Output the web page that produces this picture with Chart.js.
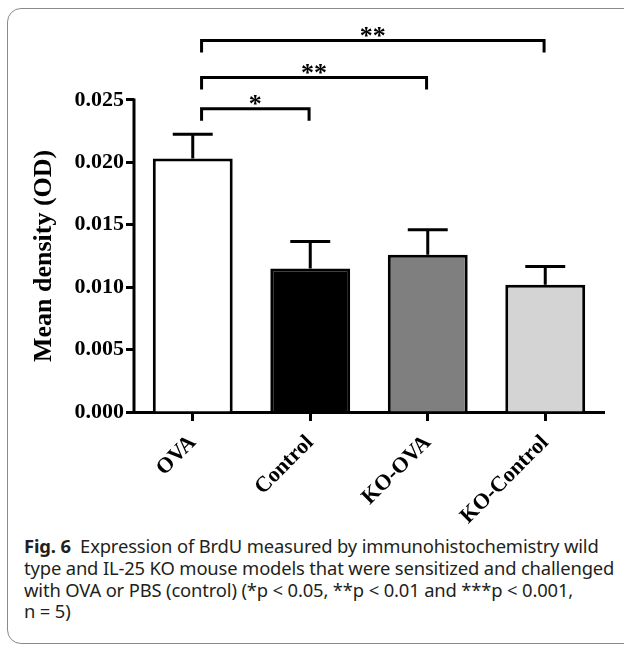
<!DOCTYPE html>
<html>
<head>
<meta charset="utf-8">
<script src="https://cdn.jsdelivr.net/npm/chart.js@4.4.1/dist/chart.umd.min.js"></script>
<style>
  html, body { margin: 0; padding: 0; background: #fff; overflow: hidden; }
  #wrap { position: relative; width: 624px; height: 646px; overflow: hidden; }
  #frame {
    position: absolute; left: 7px; top: 8px; width: 660px; height: 636px;
    border: 1px solid #8a8a8a; border-radius: 14px; box-sizing: border-box;
  }
  #plot { position: absolute; left: 0; top: 0; width: 624px; height: 530px; }
  #caption {
    position: absolute; left: 24px; top: 535px; width: 610px;
    font-family: "Noto Sans", sans-serif; font-size: 18.4px; line-height: 21.8px;
    color: #231f20; white-space: nowrap; letter-spacing: -0.15px;
  }
</style>
</head>
<body>
<div id="wrap">
  <div id="frame"></div>
  <div id="plot"><canvas id="barChart"></canvas></div>
  <div id="caption"><b>Fig. 6</b>&nbsp; Expression of BrdU measured by immunohistochemistry wild<br>type and IL-25 KO mouse models that were sensitized and challenged<br>with OVA or PBS (control) (*p &lt; 0.05, **p &lt; 0.01 and ***p &lt; 0.001,<br>n = 5)</div>
</div>
<script>
// values
const groups = ["OVA", "Control", "KO-OVA", "KO-Control"];
const meanOD = [0.0203, 0.0115, 0.0126, 0.0102];
const semOD = [0.00195, 0.00215, 0.0020, 0.00145];
const yTicks = [0, 0.005, 0.010, 0.015, 0.020, 0.025];
const barColors = ["#ffffff", "#000000", "#7f7f7f", "#d4d4d4"];

// significance brackets: from group, to group, label, level (OD)
const sigFrom = [0, 0, 0];
const sigTo = [1, 2, 3];
const sigLabel = ["*", "**", "**"];
const sigLevel = [0.0243, 0.0268, 0.02975];

const serif = "'Liberation Serif', 'Times New Roman', serif";

const errorBars = {
    id: "errorBars",
    afterDatasetsDraw(chart) {
        const ctx = chart.ctx;
        const y = chart.scales.y;
        const meta = chart.getDatasetMeta(0);
        ctx.save();
        ctx.strokeStyle = "#000";
        ctx.lineWidth = 3;
        meta.data.forEach((bar, i) => {
            const top = y.getPixelForValue(meanOD[i] + semOD[i]);
            const half = bar.width * 0.25;
            ctx.beginPath();
            ctx.moveTo(bar.x, bar.y);
            ctx.lineTo(bar.x, top);
            ctx.moveTo(bar.x - half, top);
            ctx.lineTo(bar.x + half, top);
            ctx.stroke();
        });
        ctx.restore();
    }
};

const extras = {
    id: "extras",
    afterDraw(chart) {
        const ctx = chart.ctx;
        const x = chart.scales.x;
        const y = chart.scales.y;
        ctx.save();
        ctx.strokeStyle = "#000";
        ctx.fillStyle = "#000";
        ctx.lineWidth = 3;

        // y axis line only up to the last tick
        ctx.beginPath();
        ctx.moveTo(chart.chartArea.left, y.getPixelForValue(0) + 1.5);
        ctx.lineTo(chart.chartArea.left, y.getPixelForValue(yTicks[yTicks.length - 1]) - 1.5);
        ctx.stroke();

        // brackets
        ctx.font = "bold 26px " + serif;
        ctx.textAlign = "center";
        ctx.textBaseline = "middle";
        for (let k = 0; k < sigLabel.length; k++) {
            const x1 = x.getPixelForValue(sigFrom[k] + 0.075);
            const x2 = x.getPixelForValue(sigTo[k] - 0.01);
            const yl = y.getPixelForValue(sigLevel[k]);
            const drop = 12;
            ctx.beginPath();
            ctx.moveTo(x1, yl + drop);
            ctx.lineTo(x1, yl);
            ctx.lineTo(x2, yl);
            ctx.lineTo(x2, yl + drop);
            ctx.stroke();
            ctx.fillText(sigLabel[k], (x1 + x2) / 2, yl - 3);
        }

        // y axis title, centred on the drawn axis
        const yMid = (y.getPixelForValue(0) + y.getPixelForValue(yTicks[yTicks.length - 1])) / 2;
        ctx.translate(44, yMid);
        ctx.rotate(-Math.PI / 2);
        ctx.font = "bold 26px " + serif;
        ctx.fillText("Mean density (OD)", 0, 0);
        ctx.restore();
    }
};

new Chart(document.getElementById("barChart"), {
    type: "bar",
    data: {
        labels: groups,
        datasets: [{
            data: meanOD,
            backgroundColor: barColors,
            borderColor: "#000",
            borderWidth: 3,
            borderSkipped: "bottom",
            categoryPercentage: 1,
            barPercentage: 0.68
        }]
    },
    options: {
        responsive: true,
        maintainAspectRatio: false,
        animation: false,
        events: [],
        layout: { padding: { top: 25, right: 20, left: 0, bottom: 0 } },
        plugins: { legend: { display: false }, tooltip: { enabled: false } },
        scales: {
            x: {
                afterFit(scale) { scale.height = 118; },
                grid: {
                    offset: false, drawOnChartArea: false, drawTicks: true,
                    tickLength: 9, tickWidth: 3, tickColor: "#000"
                },
                border: { display: true, color: "#000", width: 3 },
                ticks: {
                    color: "#000", minRotation: 45, maxRotation: 45, padding: 9,
                    font: { family: serif, size: 22, weight: "bold" }
                }
            },
            y: {
                min: 0,
                max: 0.031,
                afterFit(scale) { scale.width = 134; },
                afterBuildTicks(scale) { scale.ticks = yTicks.map(v => ({ value: v })); },
                grid: {
                    drawOnChartArea: false, drawTicks: true,
                    tickLength: 8, tickWidth: 3, tickColor: "#000"
                },
                border: { display: false },
                ticks: {
                    color: "#000", padding: 2,
                    callback: v => v.toFixed(3),
                    font: { family: serif, size: 22, weight: "bold" }
                }
            }
        }
    },
    plugins: [errorBars, extras]
});
</script>
</body>
</html>
